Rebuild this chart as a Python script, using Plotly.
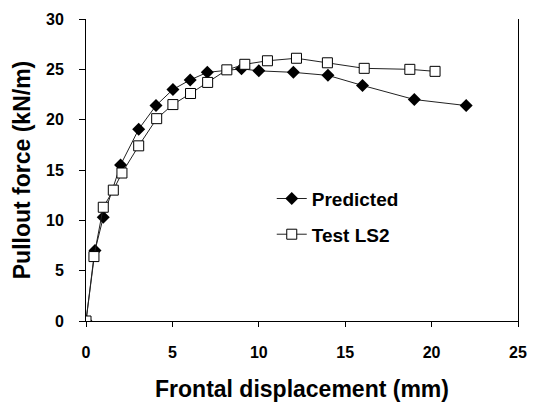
import plotly.graph_objects as go

pred_x = [0, 0.52, 1.0, 2.0, 3.05, 4.05, 5.03, 6.03, 7.02, 9.0, 10.0, 12.0, 14.0, 16.0, 19.0, 22.0]
pred_y = [0, 7.0, 10.3, 15.5, 19.05, 21.4, 23.0, 23.95, 24.7, 25.05, 24.85, 24.7, 24.4, 23.4, 22.0, 21.4]

test_x = [0, 0.46, 1.0, 1.58, 2.08, 3.05, 4.09, 5.03, 6.05, 7.04, 8.15, 9.19, 10.5, 12.18, 13.97, 16.1, 18.74, 20.2]
test_y = [0, 6.4, 11.3, 13.0, 14.7, 17.4, 20.1, 21.5, 22.6, 23.7, 24.95, 25.5, 25.85, 26.1, 25.65, 25.1, 25.0, 24.8]

x_ticks = [0, 5, 10, 15, 20, 25]
y_ticks = [0, 5, 10, 15, 20, 25, 30]

font = "Liberation Sans, Arial, sans-serif"

fig = go.Figure()
fig.add_trace(go.Scatter(
    x=pred_x, y=pred_y, mode="lines+markers", name="Predicted",
    line=dict(color="#222222", width=1),
    marker=dict(symbol="diamond", size=10, color="black"),
    legendgroup="a",
))
fig.add_trace(go.Scatter(
    x=test_x, y=test_y, mode="lines+markers", name="Test LS2",
    line=dict(color="#222222", width=1),
    marker=dict(symbol="square", size=10, color="white", line=dict(color="black", width=1)),
    legendgroup="b",
))

fig.update_layout(
    width=528, height=394,
    margin=dict(l=78, r=18, t=11, b=81, autoexpand=False),
    paper_bgcolor="white", plot_bgcolor="white",
    font=dict(family=font, color="black"),
    legend=dict(
        x=0.43, y=0.468, xanchor="left", yanchor="top",
        font=dict(family=font, size=19, color="black", weight="bold"),
        tracegroupgap=8, bgcolor="rgba(0,0,0,0)",
    ),
    xaxis=dict(
        range=[0, 25], tickvals=x_ticks, showgrid=False, zeroline=False,
        showline=True, linecolor="black", linewidth=1,
        ticks="outside", ticklen=5, tickcolor="black", ticklabelstandoff=12,
        tickfont=dict(family=font, size=16, weight="bold"),
        title=dict(text="<b>Frontal displacement (mm)</b>", font=dict(family=font, size=23), standoff=22),
        automargin=False,
    ),
    yaxis=dict(
        range=[0, 30], tickvals=y_ticks, showgrid=False, zeroline=False,
        showline=True, linecolor="black", linewidth=1, mirror=True,
        ticks="outside", ticklen=6, tickcolor="black", ticklabelstandoff=12,
        tickfont=dict(family=font, size=16, weight="bold"),
        title=dict(text="<b>Pullout force (kN/m)</b>", font=dict(family=font, size=23), standoff=8),
        automargin=False,
    ),
)
fig.write_html("out.html")
